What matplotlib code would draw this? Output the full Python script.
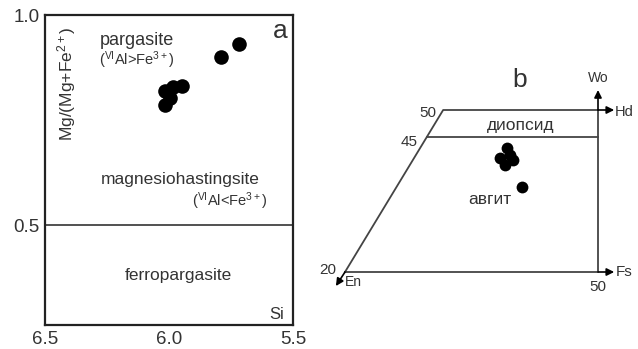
import matplotlib
matplotlib.use("Agg")
import matplotlib.pyplot as plt

plt.rcParams['font.family'] = ['Liberation Sans', 'DejaVu Sans']
plt.rcParams['mathtext.fontset'] = 'custom'
plt.rcParams['mathtext.rm'] = 'Liberation Sans'
plt.rcParams['mathtext.it'] = 'Liberation Sans:italic'
plt.rcParams['mathtext.bf'] = 'Liberation Sans:bold'

# ---- panel a data: amphibole classification ----
a_si = [5.717, 5.790, 5.949, 5.983, 6.016, 5.996, 6.016]
a_mg = [0.931, 0.901, 0.831, 0.828, 0.820, 0.802, 0.786]
a_xticks = [6.5, 6.0, 5.5]
a_xticklabels = ['6.5', '6.0', '5.5']
a_yticks = [0.5, 1.0]
a_yticklabels = ['0.5', '1.0']
a_boundary = 0.5

# ---- panel b data: pyroxene quadrilateral ----
b_fs = [31.96, 30.6, 33.3, 31.6, 32.6, 34.9]
b_wo = [42.9, 41.1, 40.7, 39.8, 41.6, 35.8]
b_outline_x = [0.0, 19.4, 50.0, 50.0, 0.0]
b_outline_y = [20.0, 50.0, 50.0, 20.0, 20.0]
b_di_line_x = [16.2, 50.0]
b_di_line_y = [45.0, 45.0]

W, H = 638, 349
fig = plt.figure(figsize=(W / 100, H / 100), dpi=100)

# ---------- panel a ----------
axa = fig.add_axes([45 / W, 1 - 325 / H, 248 / W, 310 / H])
axa.set_xlim(6.5, 5.5)
axa.set_ylim(0.262, 1.0)
axa.set_xticks(a_xticks)
axa.set_xticklabels(a_xticklabels)
axa.set_yticks(a_yticks)
axa.set_yticklabels(a_yticklabels)
axa.tick_params(length=0, labelsize=13.5, pad=4, colors='#333333')
for s in axa.spines.values():
    s.set_linewidth(1.6)
    s.set_color('#222222')
axa.axhline(a_boundary, color='#333333', lw=1.2)
axa.plot(a_si, a_mg, 'o', color='black', markersize=10.5, markeredgewidth=0)

def pa(px, py):
    return (6.5 - (px - 45) / 248, 1.0 - (py - 15) / 420)

tc = '#333333'
axa.text(*pa(137, 40), 'pargasite', fontsize=13, ha='center', va='center', color=tc)
axa.text(*pa(99, 60), r'($^{\mathregular{VI}}$Al>Fe$^{3+}$)', fontsize=10.5,
         ha='left', va='center', color=tc)
axa.text(*pa(180, 179), 'magnesiohastingsite', fontsize=12.5, ha='center', va='center', color=tc)
axa.text(*pa(192, 201), r'($^{\mathregular{VI}}$Al<Fe$^{3+}$)', fontsize=10.5,
         ha='left', va='center', color=tc)
axa.text(*pa(178, 275), 'ferropargasite', fontsize=12.5, ha='center', va='center', color=tc)
axa.text(*pa(277, 314), 'Si', fontsize=12, ha='center', va='center', color=tc)
axa.text(*pa(280, 31), 'a', fontsize=19, ha='center', va='center', color=tc)
axa.text(*pa(67, 84), r'Mg/(Mg+Fe$^{2+}$)', fontsize=12.5, rotation=90,
         ha='center', va='center', color=tc)

# ---------- panel b ----------
axb = fig.add_axes([345 / W, 1 - 272 / H, 253 / W, 162 / H])
axb.set_xlim(0, 50)
axb.set_ylim(20, 50)
axb.axis('off')
lc = '#444444'
axb.plot(b_outline_x, b_outline_y, color=lc, lw=1.3, clip_on=False)
axb.plot(b_di_line_x, b_di_line_y, color=lc, lw=1.3, clip_on=False)
axb.plot(b_fs, b_wo, 'o', color='black', markersize=8.5, markeredgewidth=0, clip_on=False)

ap = dict(arrowstyle='-|>', color='black', lw=1.2, mutation_scale=11,
          shrinkA=0, shrinkB=0)
axb.annotate('', xy=(50, 53.7), xytext=(50, 50), arrowprops=ap, annotation_clip=False)
axb.annotate('', xy=(53.2, 50), xytext=(50, 50), arrowprops=ap, annotation_clip=False)
axb.annotate('', xy=(53.2, 20), xytext=(50, 20), arrowprops=ap, annotation_clip=False)
axb.annotate('', xy=(-1.8, 17.4), xytext=(0, 20), arrowprops=ap, annotation_clip=False)

def pb(px, py):
    return ((px - 345) / 5.06, 20 + (272 - py) / 5.4)

kw = dict(color=tc, clip_on=False)
axb.text(*pb(436, 113), '50', fontsize=11, ha='right', va='center', **kw)
axb.text(*pb(418, 142), '45', fontsize=11, ha='right', va='center', **kw)
axb.text(*pb(336, 270), '20', fontsize=11, ha='right', va='center', **kw)
axb.text(*pb(345, 282), 'En', fontsize=10, ha='left', va='center', **kw)
axb.text(*pb(598, 287), '50', fontsize=11, ha='center', va='center', **kw)
axb.text(*pb(616, 272), 'Fs', fontsize=11, ha='left', va='center', **kw)
axb.text(*pb(615, 112), 'Hd', fontsize=10.5, ha='left', va='center', **kw)
axb.text(*pb(598, 78), 'Wo', fontsize=10, ha='center', va='center', **kw)
axb.text(*pb(520, 80), 'b', fontsize=19, ha='center', va='center', **kw)
axb.text(*pb(521, 126), 'диопсид', fontsize=12.5, ha='center', va='center', **kw)
axb.text(*pb(490, 200), 'авгит', fontsize=12.5, ha='center', va='center', **kw)

fig.savefig('out.png', dpi=100)
